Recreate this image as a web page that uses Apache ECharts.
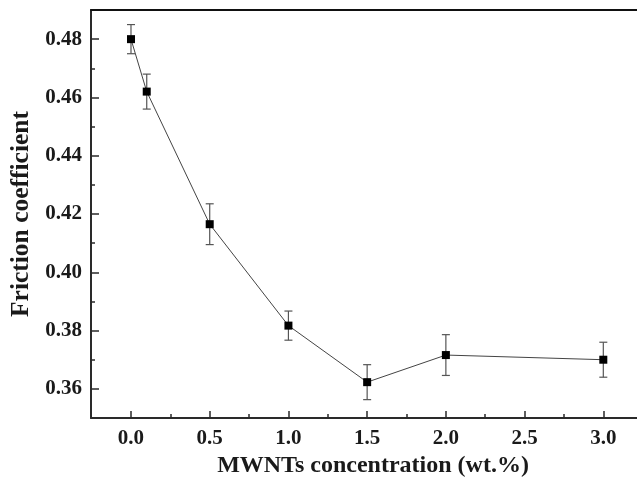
<!DOCTYPE html>
<html><head><meta charset="utf-8">
<script src="https://cdn.jsdelivr.net/npm/echarts@6/dist/echarts.min.js"></script>
<style>html,body{margin:0;padding:0;background:#fff}#c{width:637px;height:483px}</style>
</head><body><div id="c"></div>
<script>
const concentrations = [0, 0.1, 0.5, 1.0, 1.5, 2.0, 3.0];
const frictionCoeff = [0.480, 0.462, 0.4165, 0.3817, 0.3623, 0.3716, 0.370];
const errorValues = [0.005, 0.006, 0.007, 0.005, 0.006, 0.007, 0.006];
const xMajorTicks = [0, 0.5, 1.0, 1.5, 2.0, 2.5, 3.0];
const xMinorTicks = [0.25, 0.75, 1.25, 1.75, 2.25, 2.75];
const yMajorTicks = [0.36, 0.38, 0.40, 0.42, 0.44, 0.46, 0.48];
const yMinorTicks = [0.37, 0.39, 0.41, 0.43, 0.45, 0.47];

const lineData = concentrations.map((x, i) => [x, frictionCoeff[i]]);
const errData = concentrations.map((x, i) => [x, frictionCoeff[i] - errorValues[i], frictionCoeff[i] + errorValues[i]]);

const FONT = '"Liberation Serif", "Times New Roman", serif';
const axisColor = '#2a2a2a';
const chart = echarts.init(document.getElementById('c'), null, {renderer: 'canvas'});
chart.setOption({
  animation: false,
  backgroundColor: '#fff',
  grid: {left: 91, top: 10, right: 0, bottom: 63, containLabel: false},
  xAxis: [
    {type: 'value', position: 'bottom', min: -0.254, max: 3.214,
     name: 'MWNTs concentration (wt.%)', nameLocation: 'middle', nameGap: 36,
     nameTextStyle: {fontFamily: FONT, fontWeight: 'bold', fontSize: 24, color: '#1a1a1a', padding: [0, 0, 0, 18]},
     axisLine: {show: true, onZero: false, lineStyle: {color: axisColor, width: 2}},
     axisTick: {show: true, inside: true, length: 7, customValues: xMajorTicks, lineStyle: {color: axisColor, width: 1.5}},
     axisLabel: {show: true, customValues: xMajorTicks, margin: 10, fontFamily: FONT, fontWeight: 'bold', fontSize: 21, color: '#1a1a1a',
       formatter: v => v.toFixed(1)},
     splitLine: {show: false}},
    {type: 'value', position: 'bottom', min: -0.254, max: 3.214,
     axisLine: {show: false, onZero: false},
     axisTick: {show: true, inside: true, length: 4, customValues: xMinorTicks, lineStyle: {color: axisColor, width: 1.5}},
     axisLabel: {show: false}, splitLine: {show: false}},
    {type: 'value', position: 'top', min: -0.254, max: 3.214,
     axisLine: {show: true, onZero: false, lineStyle: {color: '#111', width: 2}},
     axisTick: {show: false}, axisLabel: {show: false}, splitLine: {show: false}}
  ],
  yAxis: [
    {type: 'value', position: 'left', min: 0.35, max: 0.49,
     name: 'Friction coefficient', nameLocation: 'middle', nameGap: 57, nameRotate: 90,
     nameTextStyle: {fontFamily: FONT, fontWeight: 'bold', fontSize: 25.5, color: '#1a1a1a'},
     axisLine: {show: true, onZero: false, lineStyle: {color: axisColor, width: 2}},
     axisTick: {show: true, inside: true, length: 8, customValues: yMajorTicks, lineStyle: {color: axisColor, width: 1.5}},
     axisLabel: {show: true, customValues: yMajorTicks, margin: 9, fontFamily: FONT, fontWeight: 'bold', fontSize: 21, color: '#1a1a1a',
       formatter: v => v.toFixed(2)},
     splitLine: {show: false}},
    {type: 'value', position: 'left', min: 0.35, max: 0.49,
     axisLine: {show: false, onZero: false},
     axisTick: {show: true, inside: true, length: 4, customValues: yMinorTicks, lineStyle: {color: axisColor, width: 1.5}},
     axisLabel: {show: false}, splitLine: {show: false}}
  ],
  series: [
    {type: 'line', xAxisIndex: 0, yAxisIndex: 0, data: lineData,
     symbol: 'rect', symbolSize: 8, itemStyle: {color: '#000'},
     lineStyle: {color: '#444', width: 1}, z: 3},
    {type: 'custom', xAxisIndex: 0, yAxisIndex: 0, data: errData, z: 2,
     renderItem: function (params, api) {
       const x = api.value(0);
       const lo = api.coord([x, api.value(1)]);
       const hi = api.coord([x, api.value(2)]);
       const hw = 4;
       const style = {stroke: '#555', lineWidth: 1.2, fill: null};
       return {type: 'group', children: [
         {type: 'line', shape: {x1: lo[0], y1: lo[1], x2: hi[0], y2: hi[1]}, style: style},
         {type: 'line', shape: {x1: lo[0] - hw, y1: lo[1], x2: lo[0] + hw, y2: lo[1]}, style: style},
         {type: 'line', shape: {x1: hi[0] - hw, y1: hi[1], x2: hi[0] + hw, y2: hi[1]}, style: style}
       ]};
     }}
  ]
});
</script></body></html>
